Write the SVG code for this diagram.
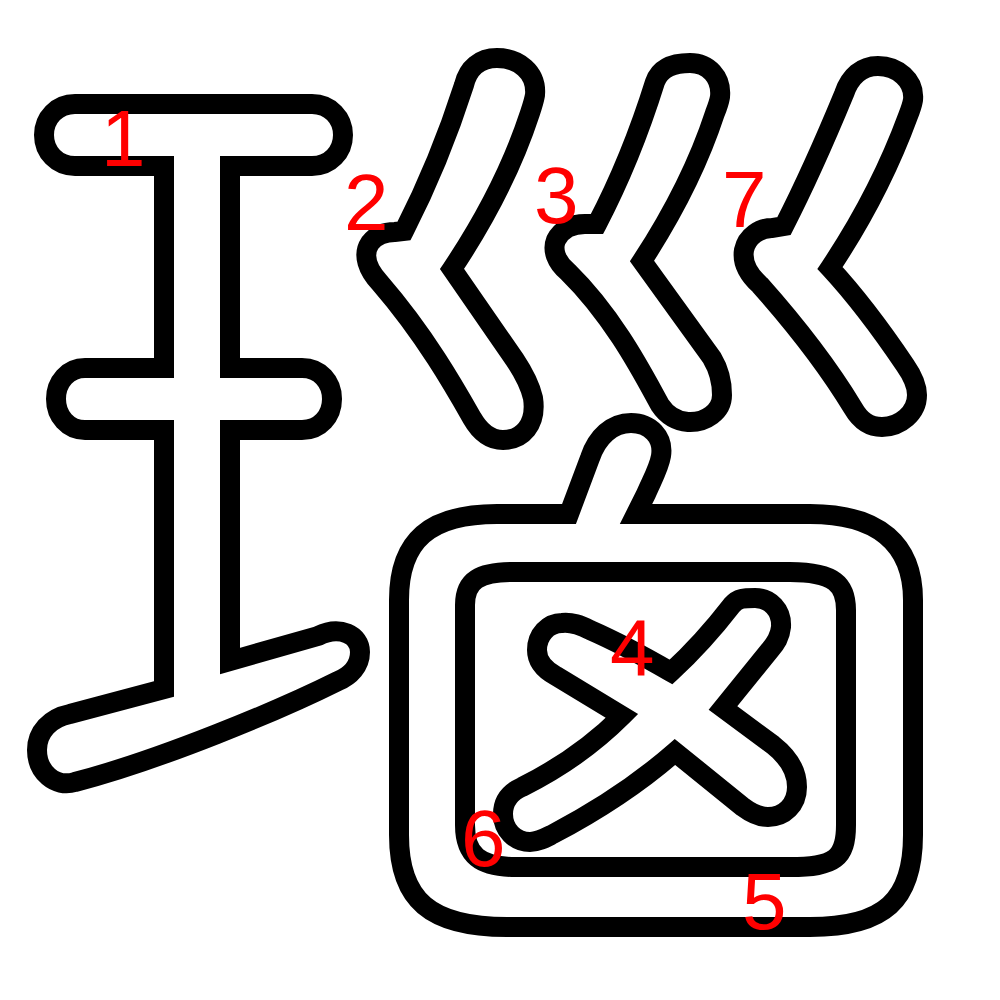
<svg xmlns="http://www.w3.org/2000/svg" width="1000" height="1000" viewBox="0 0 1000 1000">
<style>
.s{fill:#fff;stroke:#000;stroke-width:20;stroke-linejoin:miter;stroke-miterlimit:10}
.n{fill:#f00;font-family:"Liberation Sans",Arial,sans-serif;font-size:80px}
</style>
<rect width="1000" height="1000" fill="#fff"/>
<g id="wang">
<path class="s" d="M164,166 L75,166 C57,166 44,152 44,135 C44,118 57,104 75,104 L312,104 C330,104 343,118 343,135 C343,152 330,166 312,166 L230,166 L230,368 L302,368 C320,368 332,382 332,399 C332,416 320,430 302,430 L230,430 L230,661 L318,636 C340,625 360,635 360,652 C360,666 350,676 338,681 C280,710 160,760 75,782 C55,788 37,772 37,750 C37,732 50,718 70,714 L164,689 L164,430 L85,430 C68,430 56,416 56,399 C56,382 68,368 85,368 L164,368 Z"/>
</g>
<g id="chuan">
<path class="s" d="M464,85 C468,68 480,58 497,58 C518,58 537,72 535,95 C534,101 532,107 530,113 C512,168 486,218 452,269 L515,360 C523,372 530,385 533,398 C537,425 522,440 503,440 C490,440 480,432 472,418 C455,388 425,335 380,283 C368,270 362,255 370,243 C376,235 385,232 395,232 L404,231 C425,190 448,135 464,85 Z"/>
<path class="s" d="M655,82 C660,68 673,63 690,63 C708,63 722,77 720,97 C719,103 717,108 715,113 C698,165 672,215 642,261 L712,358 C718,368 722,380 722,395 C722,412 705,423 688,422 C675,421 666,414 660,405 C645,378 615,318 568,272 C556,262 552,250 556,240 C561,230 572,224 585,224 L597,224 C620,180 640,130 655,82 Z"/>
<path class="s" d="M844,94 C850,76 862,66 878,66 C897,66 915,80 913,100 C912,106 910,111 908,116 C890,165 862,220 830,268 C855,295 878,325 905,365 C912,375 917,385 917,395 C917,413 900,427 882,427 C868,427 860,420 853,408 C830,370 800,330 760,285 C748,274 742,262 744,250 C747,236 760,228 772,228 L784,226 C805,185 825,140 844,94 Z"/>
</g>
<g id="frame">
<path class="s" fill-rule="evenodd" d="M497,514 L569,514 L590,458 C597,437 612,423 631,423 C650,423 664,437 661,456 C659,468 652,480 646,494 L636,514 L810,514 C880,514 913,545 913,600 L913,835 C913,900 885,927 810,927 L507,927 C430,927 399,900 399,835 L399,600 C399,540 430,514 497,514 Z M513,572 L790,572 C835,572 846,585 846,610 L846,825 C846,858 835,867 790,867 L515,867 C480,867 465,855 465,825 L465,605 C465,580 480,572 513,572 Z"/>
</g>
<g id="cross">
<path class="s" d="M562,623 C572,622 580,625 590,630 C620,643 645,657 671,672 C695,650 715,627 732,605 C738,598 744,598 755,598 C770,598 782,610 781,627 C780,637 776,643 770,650 L723,708 L773,745 C787,756 797,770 797,787 C797,805 784,817 768,817 C759,817 751,813 743,807 L675,752 C635,787 595,812 553,834 C545,838 538,842 530,842 C515,842 503,830 503,814 C503,800 511,792 522,787 C560,768 593,745 622,716 L556,676 C545,670 537,662 537,650 C537,635 548,623 562,623 Z"/>
</g>
<g id="labels">
<text class="n" x="101" y="166">1</text>
<text class="n" x="344" y="230">2</text>
<text class="n" x="534" y="223">3</text>
<text class="n" x="610" y="675">4</text>
<text class="n" x="742" y="929">5</text>
<text class="n" x="461" y="866">6</text>
<text class="n" x="722" y="227">7</text>
</g>
</svg>
